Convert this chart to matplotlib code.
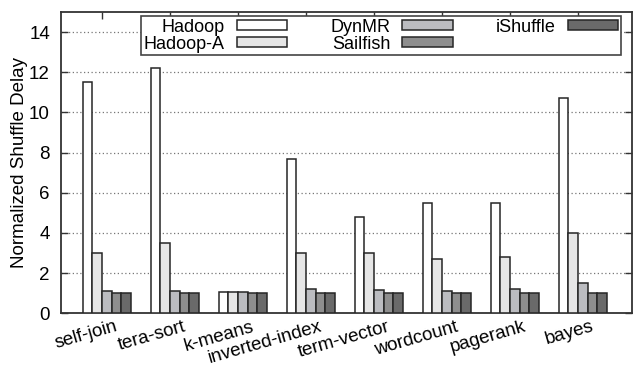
import matplotlib
matplotlib.use("Agg")
import matplotlib.pyplot as plt
import numpy as np

plt.rcParams['font.family'] = ['Liberation Sans', 'DejaVu Sans']

workloads = ["self-join", "tera-sort", "k-means", "inverted-index",
             "term-vector", "wordcount", "pagerank", "bayes"]
series_names = ["Hadoop", "Hadoop-A", "DynMR", "Sailfish", "iShuffle"]
hadoop = [11.5, 12.2, 1.08, 7.7, 4.8, 5.5, 5.5, 10.7]
hadoop_a = [3.0, 3.5, 1.04, 3.0, 3.0, 2.7, 2.8, 4.0]
dynmr = [1.1, 1.1, 1.04, 1.2, 1.15, 1.1, 1.2, 1.5]
sailfish = [1.0, 1.0, 1.0, 1.0, 1.0, 1.0, 1.0, 1.0]
ishuffle = [1.0, 1.0, 1.0, 1.0, 1.0, 1.0, 1.0, 1.0]
series_values = [hadoop, hadoop_a, dynmr, sailfish, ishuffle]
y_ticks = [0, 2, 4, 6, 8, 10, 12, 14]

fills = ["#ffffff", "#e6e6e6", "#bbbcc0", "#8e8e8e", "#6a6a6a"]
edge = "#262626"
fs = 13.5

fig = plt.figure(figsize=(6.34, 3.66), dpi=100)
ax = fig.add_axes([61 / 634, (366 - 313.3) / 366, 571 / 634, 301.3 / 366])

x = np.arange(len(workloads))
slot = 1 / 7
for j, (name, vals) in enumerate(zip(series_names, series_values)):
    ax.bar(x + (j - 1.5) * slot, vals, width=slot, color=fills[j],
           edgecolor=edge, linewidth=1.1, label=name, zorder=3)

ax.set_xlim(-0.603, 7.794)
ax.set_ylim(0, 15)
ax.set_yticks(y_ticks)
ax.set_xticks(x)
ax.set_xticklabels([])

# rotated category names, right end just past each tick
for xi, name in zip(x, workloads):
    ax.annotate(name, xy=(xi, 0), xycoords='data',
                xytext=(13, -5), textcoords='offset pixels',
                rotation=16, ha='right', va='top', rotation_mode='anchor',
                fontsize=fs, annotation_clip=False)

ax.tick_params(axis='both', direction='in', length=5, width=1,
               color='#333333', labelsize=fs, top=True, right=True)
ax.tick_params(axis='y', pad=8)
ax.yaxis.grid(True, linestyle=(0, (1, 2)), color='#777777', linewidth=0.9,
              zorder=0)
ax.set_axisbelow(True)
for sp in ax.spines.values():
    sp.set_color('#333333')
    sp.set_linewidth(1.3)

ax.set_ylabel("Normalized Shuffle Delay", fontsize=fs, labelpad=1)

leg = ax.legend(ncol=3, loc='upper right',
                bbox_to_anchor=((621 - 61) / 571, (313.3 - 16) / 301.3),
                borderaxespad=0, markerfirst=False, fontsize=13,
                handlelength=2.8, handleheight=0.45, handletextpad=0.65,
                columnspacing=2.4, labelspacing=0.0, borderpad=0.15,
                fancybox=False, framealpha=1, edgecolor='#444444')
leg.get_frame().set_linewidth(1.2)
leg.set_zorder(5)

fig.savefig("out.png", dpi=100)
